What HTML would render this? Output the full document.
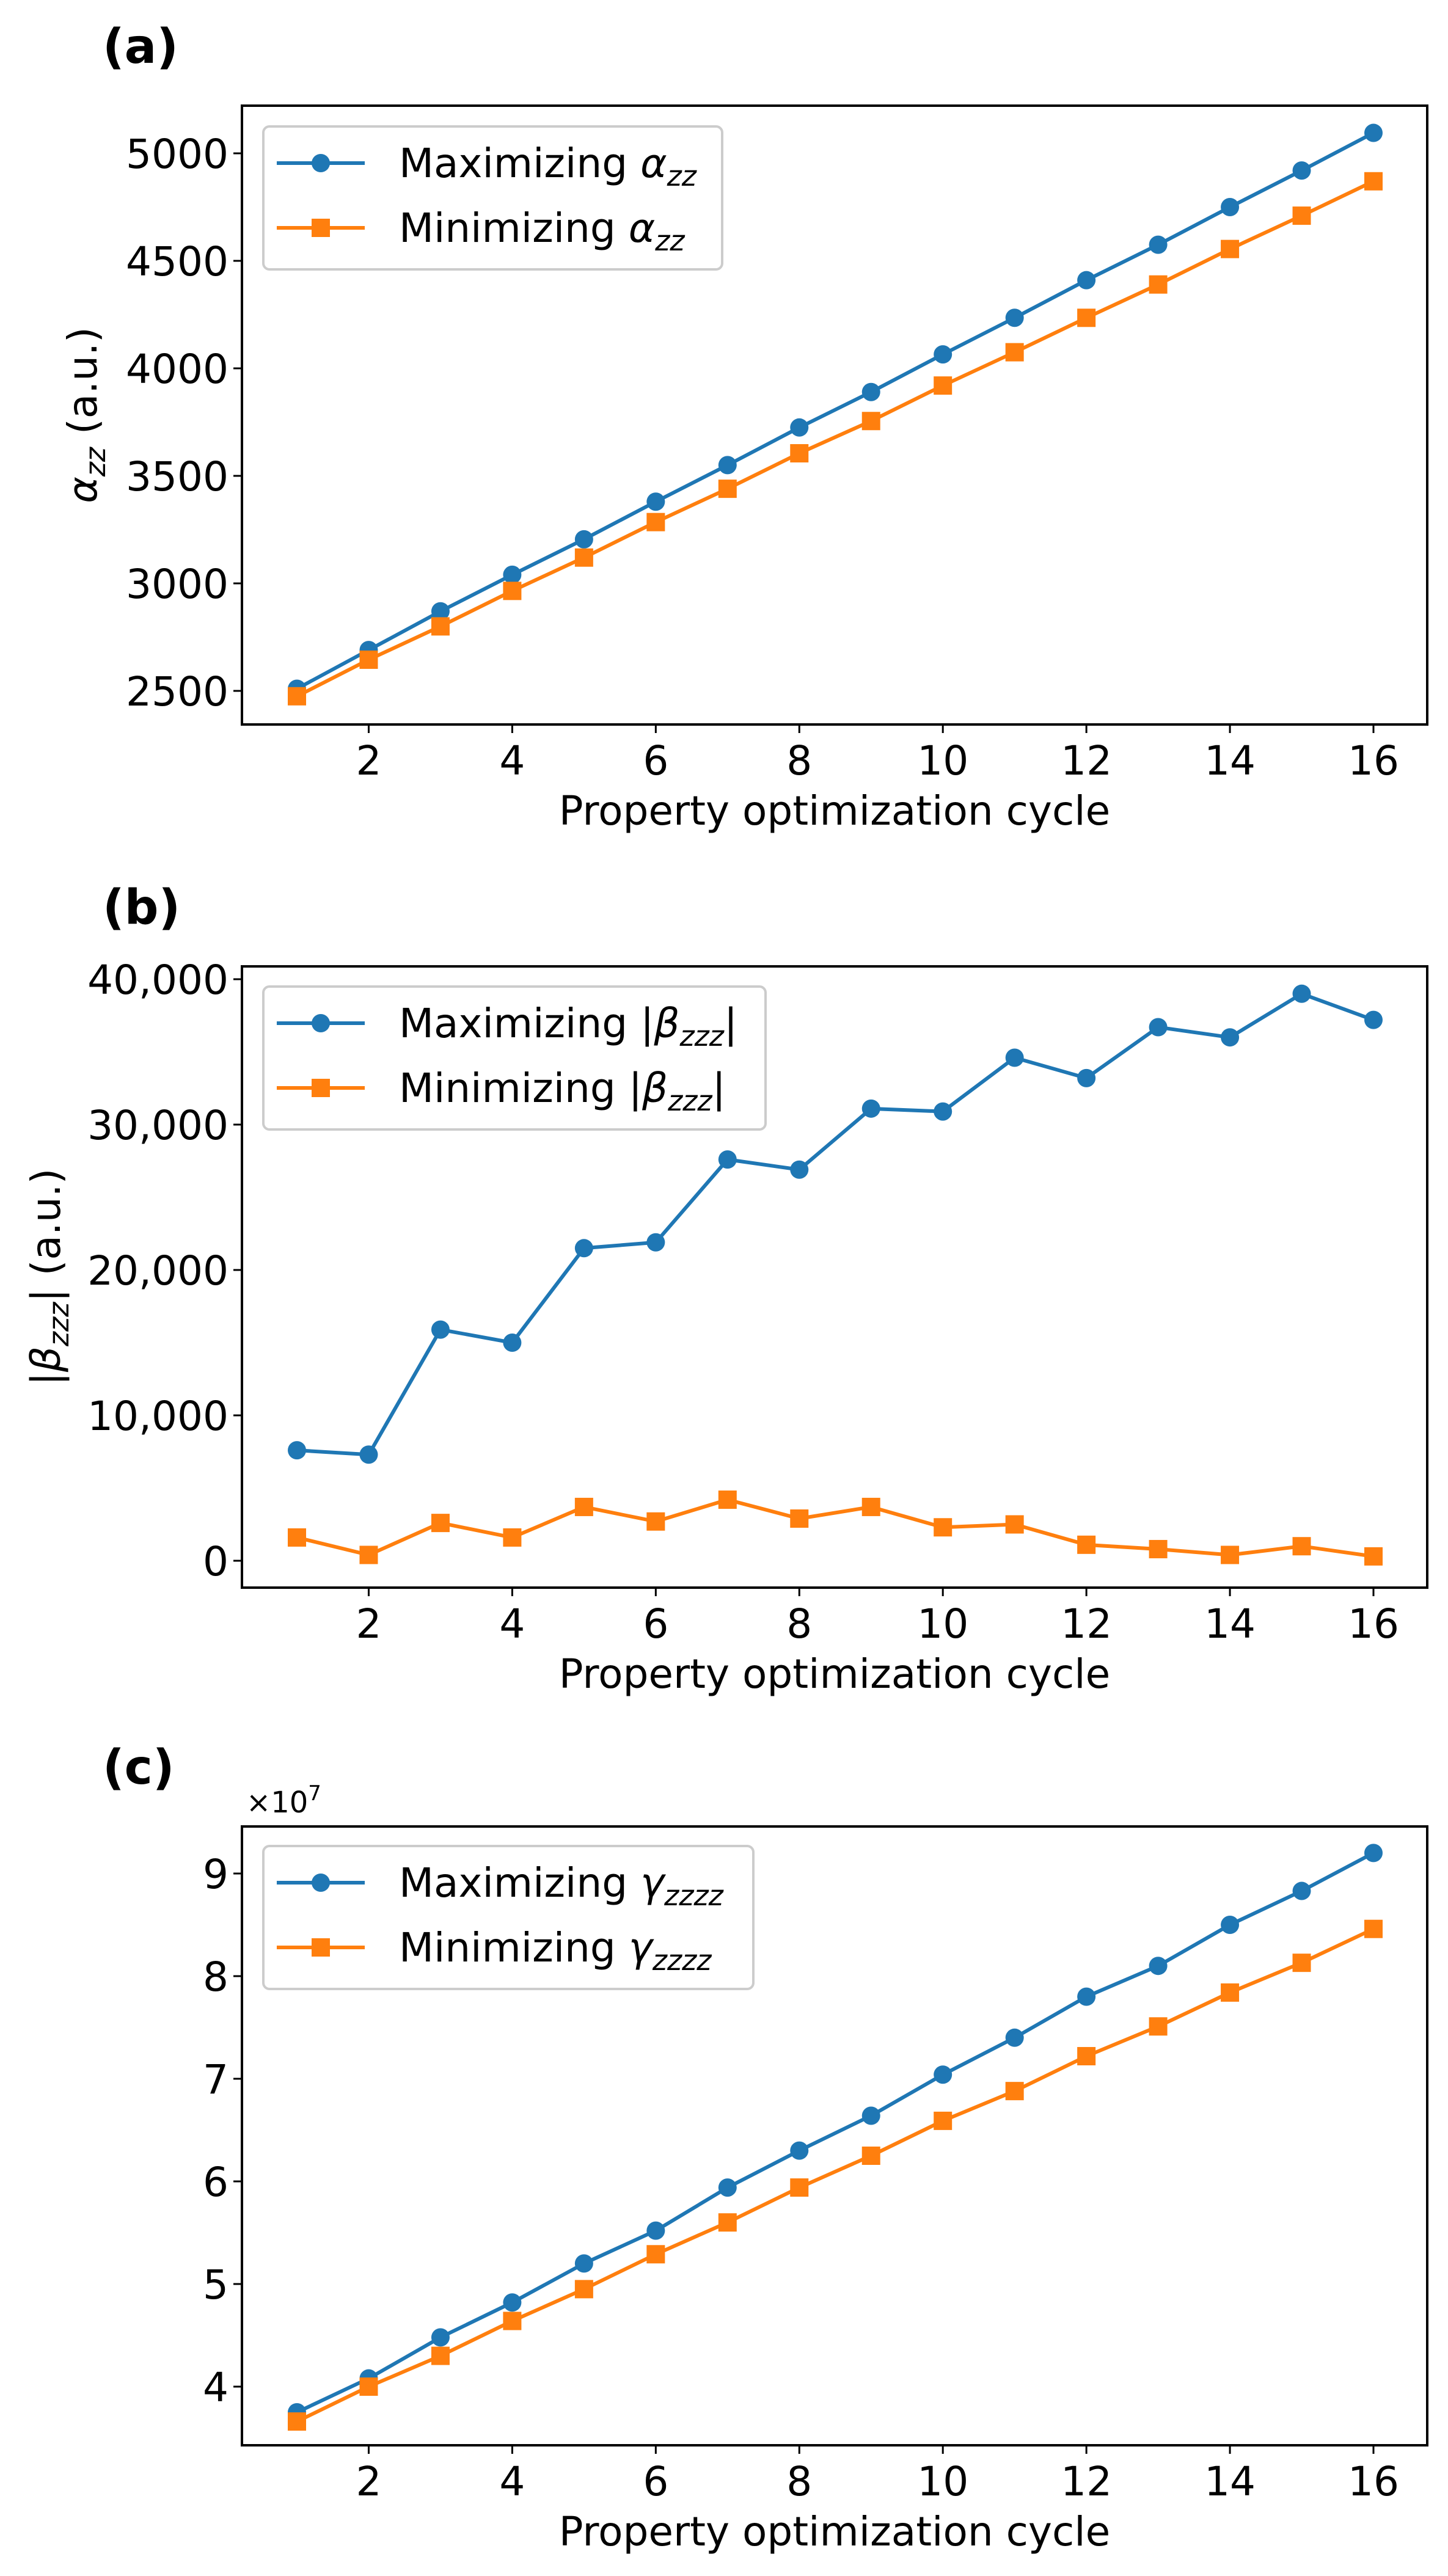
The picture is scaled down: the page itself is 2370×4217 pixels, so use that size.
<!DOCTYPE html>
<html><head><meta charset="utf-8">
<style>
html,body{margin:0;padding:0;background:#fff;}
svg{display:block;font-family:"DejaVu Sans","Liberation Sans",sans-serif;}
</style></head>
<body>
<svg id="fig" width="2370" height="4217" viewBox="0 0 2370 4217" xmlns="http://www.w3.org/2000/svg"></svg>
<script>
const cycles = [1,2,3,4,5,6,7,8,9,10,11,12,13,14,15,16];
const xTicks = [2,4,6,8,10,12,14,16];
const alphaMax = [2510,2690,2870,3040,3205,3380,3550,3725,3890,4065,4235,4410,4575,4750,4920,5095];
const alphaMin = [2475,2645,2800,2965,3120,3285,3440,3605,3755,3920,4075,4235,4390,4555,4710,4870];
const alphaTicks = [2500,3000,3500,4000,4500,5000];
const alphaTickLabels = ["2500","3000","3500","4000","4500","5000"];
const betaMax = [7600,7300,15900,15000,21500,21900,27600,26900,31100,30900,34600,33200,36700,36000,39000,37200];
const betaMin = [1600,400,2600,1600,3700,2700,4200,2900,3700,2300,2500,1100,800,400,1000,300];
const betaTicks = [0,10000,20000,30000,40000];
const betaTickLabels = ["0","10,000","20,000","30,000","40,000"];
const gammaMax = [3.75,4.08,4.48,4.82,5.20,5.52,5.94,6.30,6.64,7.04,7.40,7.80,8.10,8.50,8.83,9.20];
const gammaMin = [3.66,4.00,4.30,4.64,4.95,5.29,5.60,5.94,6.25,6.59,6.88,7.22,7.51,7.84,8.13,8.46];
const gammaTicks = [4,5,6,7,8,9];
const gammaTickLabels = ["4","5","6","7","8","9"];

const NS="http://www.w3.org/2000/svg";
const svg=document.getElementById('fig');
function mk(tag,attrs,parent){const e=document.createElementNS(NS,tag);for(const k in attrs)e.setAttribute(k,attrs[k]);(parent||svg).appendChild(e);return e;}
const BLUE="#1f77b4", ORANGE="#ff7f0e";
const L=396,R=2336,X1=486,X16=2248;
function xs(v){return X1+(v-1)*(X16-X1)/15;}

function panel(o){
  const g=mk('g',{});
  
  
  const ys=v=>o.y0px+(v-o.y0)*(o.y1px-o.y0px)/(o.y1-o.y0);
  const t=mk('text',{x:168,y:o.top-70,'font-size':78,'font-weight':'bold'},g);t.textContent=o.letter;
  
  const fr=mk('rect',{x:L,y:o.top,width:R-L,height:o.bot-o.top,fill:'none',stroke:'#000','stroke-width':4},g);
  
  xTicks.forEach(v=>{
    const x=xs(v);
    mk('line',{x1:x,y1:o.bot,x2:x,y2:o.bot+14,stroke:'#000','stroke-width':3},g);
    const tl=mk('text',{x:x,y:o.bot+82,'font-size':66,'text-anchor':'middle'},g);tl.textContent=v;
    
  });
  const xl=mk('text',{x:(L+R)/2,y:o.bot+164,'font-size':66,'text-anchor':'middle'},g);xl.textContent='Property optimization cycle';
  
  o.ticks.forEach((v,i)=>{
    const y=ys(v);
    mk('line',{x1:L-14,y1:y,x2:L,y2:y,stroke:'#000','stroke-width':3},g);
    const tl=mk('text',{x:L-22,y:y+24,'font-size':66,'text-anchor':'end'},g);tl.textContent=o.tickLabels[i];
    
  });
  if(o.ylabel){
    const yt=mk('text',{transform:`translate(${o.ylx},${(o.top+o.bot)/2}) rotate(-90)`,'font-size':66,'text-anchor':'middle'},g);
    yt.innerHTML=o.ylabel;
    
  }
  [[o.max,BLUE,'circle','series-maximizing'],[o.min,ORANGE,'square','series-minimizing']].forEach(([vals,c,m,nm])=>{
    const sg=mk('g',{},g);
    
    mk('polyline',{points:vals.map((v,i)=>xs(cycles[i])+','+ys(v)).join(' '),fill:'none',stroke:c,'stroke-width':6,'stroke-linejoin':'round'},sg);
    vals.forEach((v,i)=>{
      let p;
      if(m==='circle')p=mk('circle',{cx:xs(cycles[i]),cy:ys(v),r:15,fill:c},sg);
      else p=mk('rect',{x:xs(cycles[i])-15,y:ys(v)-15,width:30,height:30,fill:c},sg);
      
    });
  });
  const lg=mk('g',{},g);
  
  mk('rect',{x:431,y:o.legTop,width:o.legW,height:234,rx:10,fill:'#fff','fill-opacity':0.8,stroke:'#cccccc','stroke-width':4},lg);
  [[o.legTop+60,BLUE,'circle',o.leg1],[o.legTop+166,ORANGE,'square',o.leg2]].forEach(([y,c,m,txt])=>{
    const eg=mk('g',{},lg);
    
    mk('line',{x1:453,y1:y,x2:597,y2:y,stroke:c,'stroke-width':6},eg);
    if(m==='circle')mk('circle',{cx:525,cy:y,r:15,fill:c},eg);
    else mk('rect',{x:510,y:y-15,width:30,height:30,fill:c},eg);
    const tt=mk('text',{x:653,y:y+23,'font-size':66},eg);tt.innerHTML=txt;
  });
}

panel({name:'panel-a-alpha',letter:'(a)',top:173,bot:1186,y0:2500,y1:5000,y0px:1131,y1px:251,
  ticks:alphaTicks,tickLabels:alphaTickLabels,max:alphaMax,min:alphaMin,ylx:158,
  ylabel:'<tspan font-style="italic">α</tspan><tspan font-style="italic" font-size="46" dy="14">zz</tspan><tspan dy="-14"> (a.u.)</tspan>',
  legTop:207,legW:751,
  leg1:'Maximizing <tspan font-style="italic">α</tspan><tspan font-style="italic" font-size="46" dy="14">zz</tspan>',
  leg2:'Minimizing <tspan font-style="italic">α</tspan><tspan font-style="italic" font-size="46" dy="14">zz</tspan>'});

panel({name:'panel-b-beta',letter:'(b)',top:1582,bot:2599,y0:0,y1:40000,y0px:2555,y1px:1603,
  ticks:betaTicks,tickLabels:betaTickLabels,max:betaMax,min:betaMin,ylx:98,
  ylabel:'|<tspan font-style="italic">β</tspan><tspan font-style="italic" font-size="46" dy="14">zzz</tspan><tspan dy="-14">| (a.u.)</tspan>',
  legTop:1615,legW:822,
  leg1:'Maximizing |<tspan font-style="italic">β</tspan><tspan font-style="italic" font-size="46" dy="14">zzz</tspan><tspan dy="-14">|</tspan>',
  leg2:'Minimizing |<tspan font-style="italic">β</tspan><tspan font-style="italic" font-size="46" dy="14">zzz</tspan><tspan dy="-14">|</tspan>'});

panel({name:'panel-c-gamma',letter:'(c)',top:2990,bot:4003,y0:4,y1:9,y0px:3907,y1px:3067,
  ticks:gammaTicks,tickLabels:gammaTickLabels,max:gammaMax,min:gammaMin,ylx:0,
  ylabel:'',
  legTop:3022,legW:802,
  leg1:'Maximizing <tspan font-style="italic">γ</tspan><tspan font-style="italic" font-size="46" dy="14">zzzz</tspan>',
  leg2:'Minimizing <tspan font-style="italic">γ</tspan><tspan font-style="italic" font-size="46" dy="14">zzzz</tspan>'});

const off=mk('text',{x:403,y:2967,'font-size':48});
off.innerHTML='×10<tspan font-size="34" dy="-20">7</tspan>';


</script>
</body></html>
